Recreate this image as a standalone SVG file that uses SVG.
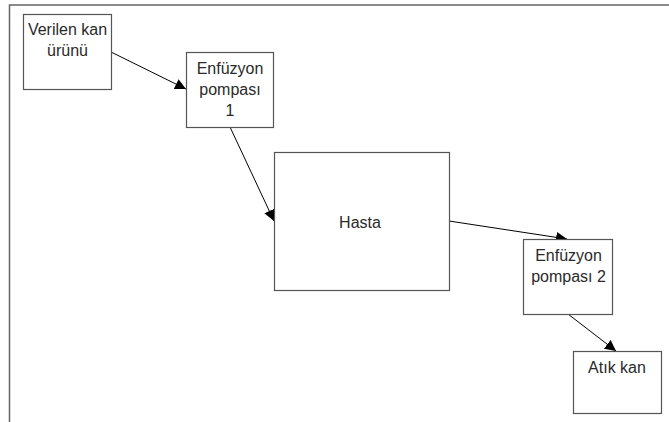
<svg xmlns="http://www.w3.org/2000/svg" width="669" height="422" viewBox="0 0 669 422">
<defs>
<style>
.box{fill:#fff;stroke:#555;stroke-width:1.2}
.t{font-family:"Liberation Sans",Arial,sans-serif;font-size:16px;fill:#2a2a2a;text-anchor:middle}
.c{stroke:#000;stroke-width:1;fill:none;marker-end:url(#ah)}
</style>
<marker id="ah" viewBox="0 0 10 10" refX="10" refY="5" markerWidth="11" markerHeight="11" markerUnits="userSpaceOnUse" orient="auto">
<path d="M0,0 L10,5 L0,10 z" fill="#000"/>
</marker>
</defs>
<rect width="669" height="422" fill="#fff"/>
<path d="M9.5,422 V5 H669" fill="none" stroke="#666" stroke-width="1.5"/>
<g id="connectors">
<line class="c" x1="111" y1="52" x2="186" y2="89"/>
<line class="c" x1="230" y1="127" x2="274" y2="221"/>
<line class="c" x1="449" y1="221" x2="567" y2="239"/>
<line class="c" x1="568" y1="314" x2="616" y2="351"/>
</g>
<g id="verilen">
<rect class="box" x="23.5" y="14.5" width="88" height="75"/>
<text class="t" x="67.5" y="35">Verilen kan</text>
<text class="t" x="67.5" y="56">ürünü</text>
</g>
<g id="pompa1">
<rect class="box" x="186.5" y="52.5" width="87" height="75"/>
<text class="t" x="230" y="73.5">Enfüzyon</text>
<text class="t" x="230" y="94.5">pompası</text>
<text class="t" x="230" y="115.5">1</text>
</g>
<g id="hasta">
<rect class="box" x="274.5" y="152.5" width="175" height="138"/>
<text class="t" x="360" y="227.5">Hasta</text>
</g>
<g id="pompa2">
<rect class="box" x="523.5" y="239.5" width="89" height="75"/>
<text class="t" x="568.5" y="261">Enfüzyon</text>
<text class="t" x="568.5" y="282">pompası 2</text>
</g>
<g id="atik">
<rect class="box" x="573.5" y="351.5" width="88" height="62"/>
<text class="t" x="617" y="372.5">Atık kan</text>
</g>
</svg>
